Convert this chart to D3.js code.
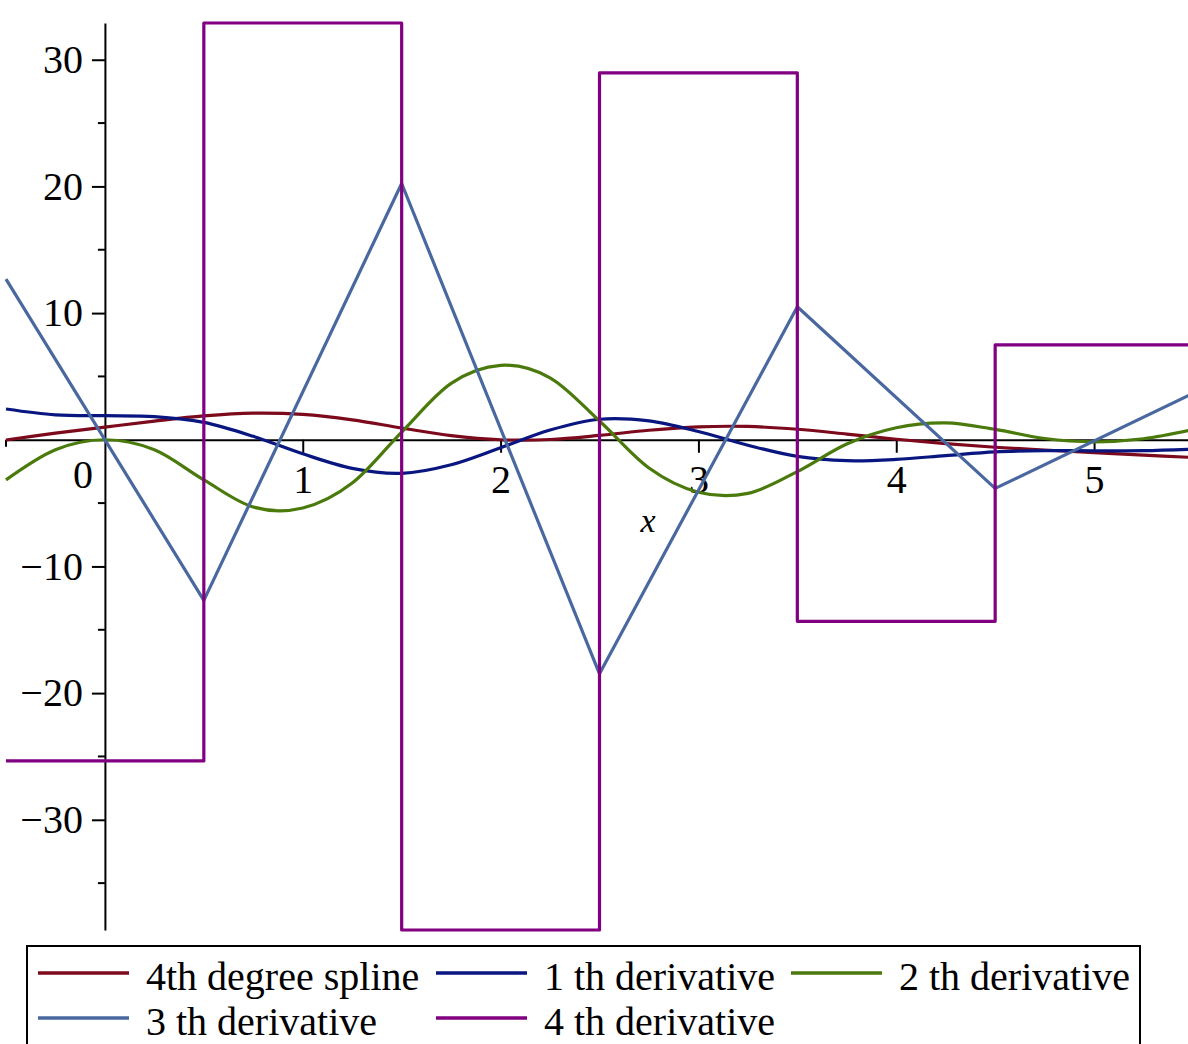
<!DOCTYPE html>
<html>
<head>
<meta charset="utf-8">
<script src="https://cdn.jsdelivr.net/npm/d3@7"></script>
<style>
	body { margin: 0; background: #fff; }
	svg { display: block; font-family: "Liberation Serif", "Times New Roman", serif; }
</style>
</head>
<body>
<div id="chart"></div>
<script>
// Sample grid for the smooth curves (every 0.25)
var xs = [-0.5, -0.25, 0, 0.25, 0.5, 0.75, 1, 1.25, 1.5, 1.75, 2, 2.25, 2.5,
		2.75, 3, 3.25, 3.5, 3.75, 4, 4.25, 4.5, 4.75, 5, 5.25, 5.5];

var spline = [-0.02, 0.52, 1.0, 1.47, 1.88, 2.10, 2.0, 1.57, 0.93, 0.33, 0.0, 0.02, 0.34,
		0.75, 1.02, 1.05, 0.83, 0.45, 0.04, -0.31, -0.59, -0.81, -1.02, -1.22, -1.40];
var deriv1 = [2.43, 1.97, 1.9, 1.83, 1.37, 0.27, -1.11, -2.26, -2.65, -1.97, -0.63, 0.77, 1.62,
		1.49, 0.65, -0.43, -1.31, -1.65, -1.55, -1.25, -0.96, -0.86, -0.87, -0.86, -0.74];
var deriv2 = [-3.17, -0.79, 0, -0.79, -3.17, -5.31, -5.39, -3.42, 0.61, 4.45, 5.88, 4.89, 1.48,
		-2.23, -4.14, -4.23, -2.51, -0.33, 0.95, 1.33, 0.82, 0.10, -0.16, 0.08, 0.80];

// Knots for the piecewise linear / constant derivatives
var knots = [-0.5, 0.5, 1.5, 2.5, 3.5, 4.5, 5.5];
var deriv3 = [12.68, -12.68, 20.23, -18.48, 10.5, -3.84, 3.66];
var deriv4 = [-25.35, 32.9, -38.7, 28.97, -14.33, 7.49];

var xTicks = [1, 2, 3, 4, 5];
var xMinor = [-0.5, 0.5, 1.5, 2.5, 3.5, 4.5, 5.5];
var yTicks = [-30, -20, -10, 10, 20, 30];
var yMinor = [-35, -25, -15, -5, 5, 15, 25];

var seriesNames = ["4th degree spline", "1 th derivative", "2 th derivative", "3 th derivative", "4 th derivative"];
var seriesColors = ["#7c0a1c", "#0a1680", "#4b7a0c", "#4a68a0", "#800080"];

var width = 1188, height = 1044;

var svg = d3.select("#chart").append("svg")
		.attr("width", width)
		.attr("height", height);

var x = d3.scaleLinear().domain([-0.5, 5.5]).range([6, 1193]);
var y = d3.scaleLinear().domain([-38.7, 32.9]).range([930, 23]);

// Axes
var xAxis = svg.append("g")
		.attr("transform", "translate(0," + y(0) + ")")
		.call(d3.axisBottom(x).tickValues(xTicks).tickFormat(d3.format("d"))
			.tickSize(13).tickSizeOuter(0).tickPadding(12));

xAxis.selectAll(".minor")
	.data(xMinor)
	.enter().append("line")
		.attr("class", "minor")
		.attr("x1", function(d) { return x(d); })
		.attr("x2", function(d) { return x(d); })
		.attr("y2", 7);

var yAxis = svg.append("g")
		.attr("transform", "translate(" + x(0) + ",0)")
		.call(d3.axisLeft(y).tickValues(yTicks).tickSize(13).tickSizeOuter(0).tickPadding(9));

yAxis.selectAll(".minor")
	.data(yMinor)
	.enter().append("line")
		.attr("class", "minor")
		.attr("y1", function(d) { return y(d); })
		.attr("y2", function(d) { return y(d); })
		.attr("x2", -7);

[xAxis, yAxis].forEach(function(g) {
	g.attr("font-family", null).attr("font-size", null);
	g.selectAll("path, line").attr("stroke", "#000").attr("stroke-width", 2);
	g.selectAll("text").attr("fill", "#000").style("font-size", "40px");
});

// origin label sits left of the y axis
svg.append("text")
		.attr("x", 83)
		.attr("y", 488)
		.attr("text-anchor", "middle")
		.style("font-size", "40px")
		.text("0");

svg.append("text")
		.attr("x", 648)
		.attr("y", 532)
		.attr("text-anchor", "middle")
		.style("font-size", "34px")
		.style("font-style", "italic")
		.text("x");

// Curves
var smooth = d3.line()
		.x(function(d) { return x(d[0]); })
		.y(function(d) { return y(d[1]); })
		.curve(d3.curveCatmullRom.alpha(0));

var straight = d3.line()
		.x(function(d) { return x(d[0]); })
		.y(function(d) { return y(d[1]); });

var steps = d3.line()
		.x(function(d) { return x(d[0]); })
		.y(function(d) { return y(d[1]); })
		.curve(d3.curveStepAfter);

var paths = [
	smooth(d3.zip(xs, spline)),
	smooth(d3.zip(xs, deriv1)),
	smooth(d3.zip(xs, deriv2)),
	straight(d3.zip(knots, deriv3)),
	steps(d3.zip(knots, deriv4.concat([deriv4[deriv4.length - 1]])))
];

svg.append("g").selectAll("path")
	.data(paths)
	.enter().append("path")
		.attr("d", function(d) { return d; })
		.attr("fill", "none")
		.attr("stroke", function(d, i) { return seriesColors[i]; })
		.attr("stroke-width", 3.2)
		.attr("stroke-linejoin", "round");

// Legend
var legend = svg.append("g");

legend.append("rect")
		.attr("x", 27)
		.attr("y", 946)
		.attr("width", 1113)
		.attr("height", 120)
		.attr("fill", "#fff")
		.attr("stroke", "#000")
		.attr("stroke-width", 2);

var legendPos = [[38, 973], [436, 973], [791, 973], [38, 1018], [436, 1018]];

var item = legend.selectAll(".item")
	.data(seriesNames)
	.enter().append("g")
		.attr("class", "item")
		.attr("transform", function(d, i) { return "translate(" + legendPos[i][0] + "," + legendPos[i][1] + ")"; });

item.append("line")
		.attr("x2", 91)
		.attr("stroke", function(d, i) { return seriesColors[i]; })
		.attr("stroke-width", 3.5);

item.append("text")
		.attr("x", 108)
		.attr("y", 17)
		.style("font-size", "40px")
		.text(function(d) { return d; });
</script>
</body>
</html>
